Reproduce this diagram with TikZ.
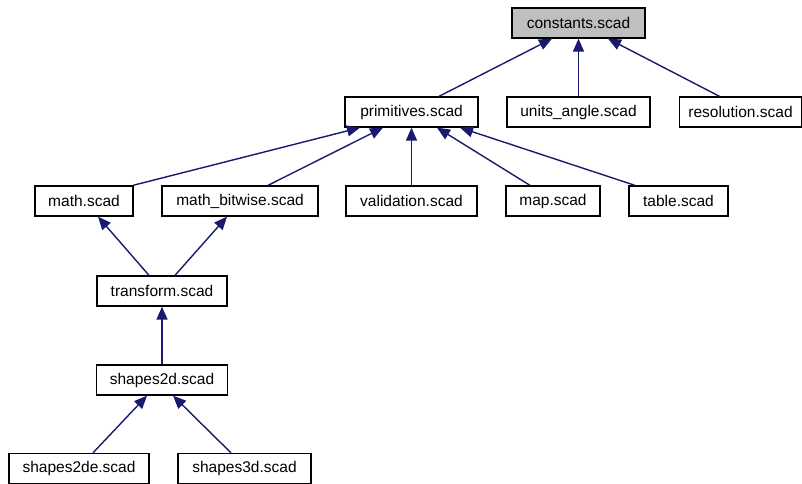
\documentclass[tikz,border=0pt]{standalone}
\usepackage{fontspec}
\setmainfont{Liberation Sans}
\usetikzlibrary{arrows.meta}
\definecolor{edgeblue}{HTML}{191970}
\definecolor{rootgray}{HTML}{BFBFBF}
\begin{document}
\begin{tikzpicture}[x=1pt,y=-1pt,
  filebox/.style={draw=black, line width=1.3pt, minimum height=30pt, inner sep=0pt, font=\fontsize{15.5pt}{18pt}\selectfont, fill=white},
  edge/.style={draw=edgeblue, line width=1.4pt, -{Triangle[length=13pt,width=11pt]}}]
\useasboundingbox (0,0) rectangle (802,483);
\node[filebox, fill=rootgray, minimum width=133pt] (const) at (578.5,23) {constants.scad};
\node[filebox, minimum width=133pt] (prim) at (411.5,112) {primitives.scad};
\node[filebox, minimum width=143pt] (units) at (578.5,112) {units\_angle.scad};
\node[filebox, minimum width=122pt] (res) at (740.5,112) {resolution.scad};
\node[filebox, minimum width=98pt] (math) at (84,201) {math.scad};
\node[filebox, minimum width=156pt] (mbw) at (240,201) {math\_bitwise.scad};
\node[filebox, minimum width=131pt] (val) at (411.5,201) {validation.scad};
\node[filebox, minimum width=94pt] (map) at (553,201) {map.scad};
\node[filebox, minimum width=99pt] (table) at (678.5,201) {table.scad};
\node[filebox, minimum width=130pt] (trans) at (162,291) {transform.scad};
\node[filebox, minimum width=131pt] (s2d) at (162,380) {shapes2d.scad};
\node[filebox, minimum width=140pt] (s2de) at (79,468.5) {shapes2de.scad};
\node[filebox, minimum width=133pt] (s3d) at (244.5,468.5) {shapes3d.scad};
% edges
\draw[edge] ([xshift=27.5pt]prim.north) -- ([xshift=-26.5pt]const.south);
\draw[edge] (units.north) -- (const.south);
\draw[edge] ([xshift=-21pt]res.north) -- ([xshift=29.5pt]const.south);
\draw[edge] ([xshift=49pt]math.north) -- ([xshift=-51.5pt]prim.south);
\draw[edge] ([xshift=28pt]mbw.north) -- ([xshift=-28.5pt]prim.south);
\draw[edge] (val.north) -- (prim.south);
\draw[edge] ([xshift=-23pt]map.north) -- ([xshift=25.5pt]prim.south);
\draw[edge] ([xshift=-43.5pt]table.north) -- ([xshift=48.5pt]prim.south);
\draw[edge] ([xshift=-13pt]trans.north) -- ([xshift=14pt]math.south);
\draw[edge] ([xshift=13pt]trans.north) -- ([xshift=-13pt]mbw.south);
\draw[edge] (s2d.north) -- (trans.south);
\draw[edge] ([xshift=14pt]s2de.north) -- ([xshift=-15pt]s2d.south);
\draw[edge] ([xshift=-13.5pt]s3d.north) -- ([xshift=11pt]s2d.south);
\end{tikzpicture}
\end{document}
